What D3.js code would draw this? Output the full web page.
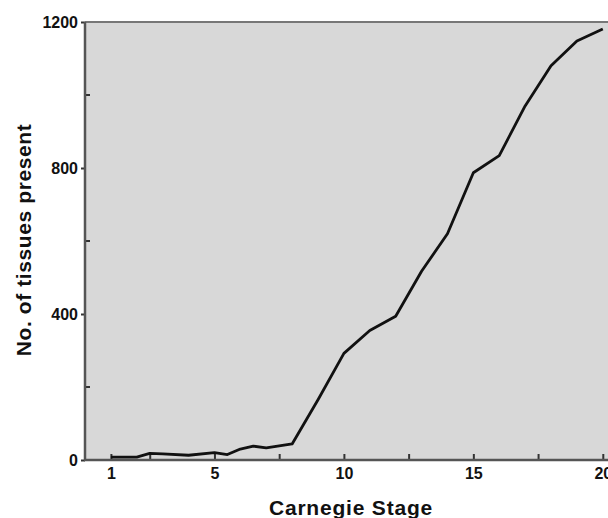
<!DOCTYPE html>
<html>
<head>
<meta charset="utf-8">
<script src="https://cdn.jsdelivr.net/npm/d3@7"></script>
<style>
    body { margin: 0; background: #fff; }
    svg { display: block; }
    .tick text, .label { font-family: "Liberation Sans", Arial, sans-serif; font-weight: bold; fill: #111; }
</style>
</head>
<body>
<script>
// stage (x) and number of tissues (y)
var stages =  [1, 2, 2.5, 3, 4, 5, 5.5, 6, 6.5, 7, 8, 9, 10, 11, 12, 13, 14, 15, 16, 17, 18, 19, 20];
var tissues = [8, 8, 18, 17, 13, 20, 15, 30, 38, 33, 44, 165, 292, 355, 394, 517, 620, 787, 834, 970, 1080, 1148, 1181];

var xTicks = [1, 2.5, 5, 7.5, 10, 12.5, 15, 17.5, 20];
var xLabels = [1, 5, 10, 15, 20];
var yTicks = [0, 200, 400, 600, 800, 1000, 1200];
var yLabels = [0, 400, 800, 1200];

var width = 608, height = 518;
var margin = { top: 22, left: 85, bottom: 58 };

var x = d3.scaleLinear().domain([0, 21]).range([margin.left, margin.left + 21 * 25.89]);
var y = d3.scaleLinear().domain([0, 1200]).range([height - margin.bottom, margin.top]);

var svg = d3.select("body").append("svg")
    .attr("width", width)
    .attr("height", height);

// plot background
svg.append("rect")
    .attr("x", x(0))
    .attr("y", y(1200))
    .attr("width", x(21) - x(0))
    .attr("height", y(0) - y(1200))
    .style("fill", "#d8d8d8");

// top border
svg.append("line")
    .attr("x1", x(0)).attr("x2", x(21))
    .attr("y1", y(1200)).attr("y2", y(1200))
    .style("stroke", "#777").style("stroke-width", 2);

// y axis: labelled ticks point out, the others in
var yAxis = d3.axisLeft(y)
    .tickValues(yLabels)
    .tickSize(4)
    .tickPadding(3)
    .tickFormat(d3.format("d"));
var gY = svg.append("g")
    .attr("transform", "translate(" + x(0) + ",0)")
    .call(yAxis);
gY.select(".domain").remove();
gY.selectAll(".tick line").style("stroke", "#333").style("stroke-width", 2);
gY.selectAll(".tick text").style("font-size", "16px");

svg.append("g")
    .selectAll("line")
    .data(yTicks.filter(function (d) { return yLabels.indexOf(d) < 0; }))
    .enter().append("line")
    .attr("x1", x(0)).attr("x2", x(0) + 5)
    .attr("y1", function (d) { return y(d); })
    .attr("y2", function (d) { return y(d); })
    .style("stroke", "#333").style("stroke-width", 2);

svg.append("line")
    .attr("x1", x(0)).attr("x2", x(0))
    .attr("y1", y(1200)).attr("y2", y(0))
    .style("stroke", "#555").style("stroke-width", 2.5);

// x axis, ticks pointing up into the plot
var xAxis = d3.axisBottom(x)
    .tickValues(xTicks)
    .tickSize(-6)
    .tickPadding(8)
    .tickFormat(function (d) { return xLabels.indexOf(d) >= 0 ? d : ""; });
var gX = svg.append("g")
    .attr("transform", "translate(0," + y(0) + ")")
    .call(xAxis);
gX.select(".domain").remove();
gX.selectAll(".tick line").style("stroke", "#333").style("stroke-width", 2);
gX.selectAll(".tick text").style("font-size", "16px");

svg.append("line")
    .attr("x1", x(0) - 1).attr("x2", x(21))
    .attr("y1", y(0)).attr("y2", y(0))
    .style("stroke", "#555").style("stroke-width", 2.5);

// the curve
var line = d3.line()
    .x(function (d, i) { return x(stages[i]); })
    .y(function (d) { return y(d); });

svg.append("path")
    .datum(tissues)
    .attr("d", line)
    .style("fill", "none")
    .style("stroke", "#111")
    .style("stroke-width", 2.8)
    .style("stroke-linejoin", "round");

// axis titles
svg.append("text")
    .attr("class", "label")
    .attr("x", 351)
    .attr("y", 515)
    .style("text-anchor", "middle")
    .style("font-size", "21px")
    .style("letter-spacing", "0.8px")
    .text("Carnegie Stage");

svg.append("text")
    .attr("class", "label")
    .attr("transform", "translate(31,240) rotate(-90)")
    .style("text-anchor", "middle")
    .style("font-size", "21px")
    .style("letter-spacing", "0.6px")
    .text("No. of tissues present");
</script>
</body>
</html>
